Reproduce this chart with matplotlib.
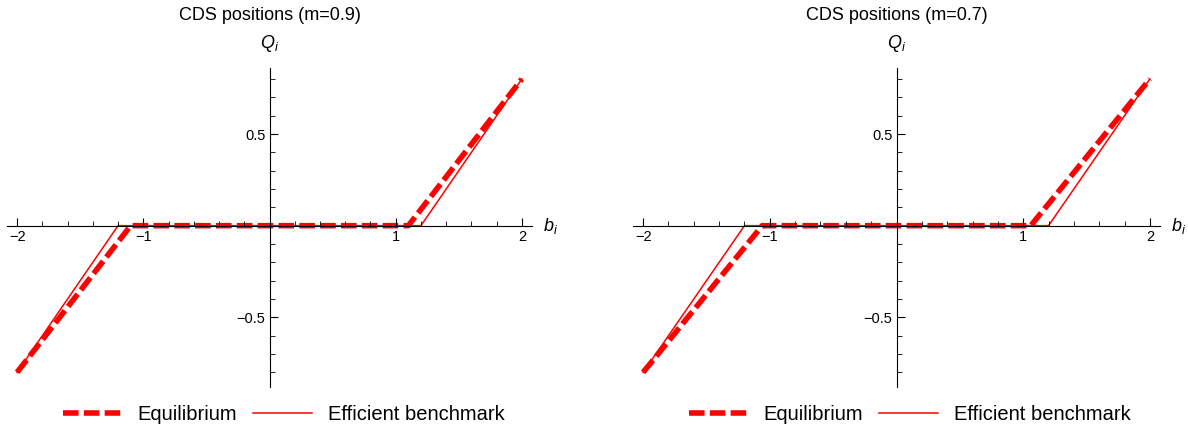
import matplotlib
matplotlib.use("Agg")
import matplotlib.pyplot as plt
from matplotlib.ticker import MultipleLocator, FixedLocator

plt.rcParams['font.family'] = ['Liberation Sans', 'DejaVu Sans']
plt.rcParams['mathtext.fontset'] = 'custom'
plt.rcParams['mathtext.it'] = 'Liberation Sans:italic'
plt.rcParams['mathtext.rm'] = 'Liberation Sans'
plt.rcParams['lines.scale_dashes'] = False

# data: piecewise-linear CDS positions Q_i against b_i
titles = ["CDS positions (m=0.9)", "CDS positions (m=0.7)"]
b_eq_09 = [-2.0, -1.1, 1.1, 2.0]
q_eq_09 = [-0.8, 0.0, 0.0, 0.8]
b_eq_07 = [-2.0, -1.06, 1.06, 2.0]
q_eq_07 = [-0.8, 0.0, 0.0, 0.8]
b_eff = [-2.0, -1.2, 1.2, 2.0]
q_eff = [-0.8, 0.0, 0.0, 0.8]
x_ticks = [-2, -1, 1, 2]
y_ticks = [-0.5, 0.5]

fig = plt.figure(figsize=(11.88, 4.3), dpi=100)

panels = [
    (b_eq_09, q_eq_09, [7/1188, 43/430, 525/1188, 319/430], 284/1188),
    (b_eq_07, q_eq_07, [633/1188, 43/430, 527/1188, 319/430], 910/1188),
]

red = '#ff0000'
for (beq, qeq, rect, legx), title in zip(panels, titles):
    ax = fig.add_axes(rect)
    ax.plot(beq, qeq, color=red, lw=4.0, dashes=(11.2, 3.8), label='Equilibrium',
            solid_capstyle='butt', dash_capstyle='butt', zorder=1.5)
    ax.plot(b_eff, q_eff, color=red, lw=1.1, label='Efficient benchmark', zorder=1.4)
    ax.set_xlim(-2.08, 2.08)
    ax.set_ylim(-0.88, 0.86)

    # Mathematica-style axes crossing at the origin, drawn over the curves
    for s in ['top', 'right']:
        ax.spines[s].set_visible(False)
    ax.spines['left'].set_position(('data', 0))
    ax.spines['bottom'].set_position(('data', 0))
    for s in ['left', 'bottom']:
        ax.spines[s].set_linewidth(0.8)
        ax.spines[s].set_zorder(3)
    ax.set_axisbelow(False)
    ax.patch.set_visible(False)

    ax.xaxis.set_major_locator(FixedLocator(x_ticks))
    ax.yaxis.set_major_locator(FixedLocator(y_ticks))
    ax.xaxis.set_minor_locator(MultipleLocator(0.2))
    ax.yaxis.set_minor_locator(MultipleLocator(0.1))
    ax.tick_params(which='major', direction='in', length=6, width=0.8, labelsize=10.5, pad=3)
    ax.tick_params(which='minor', direction='in', length=3.5, width=0.6)
    ax.set_xticklabels(['\u22122', '\u22121', '1', '2'])
    ax.set_yticklabels(['\u22120.5', '0.5'])

    ax.text(2.17, 0.0, r'$b_i$', fontsize=13, ha='left', va='center')
    xc = rect[0] + rect[2] * (0 + 2.08) / 4.16
    fig.text(xc, 1 - 43/430, r'$Q_i$', fontsize=13, ha='center', va='center')
    fig.text(xc, 1 - 15/430, title, fontsize=13, ha='center', va='center')

    fig.legend(*ax.get_legend_handles_labels(), loc='center', ncol=2,
               bbox_to_anchor=(legx, 15/430), frameon=False, fontsize=14.5,
               handlelength=2.9, columnspacing=0.8, handletextpad=0.8)

fig.savefig('out.png', dpi=100)
